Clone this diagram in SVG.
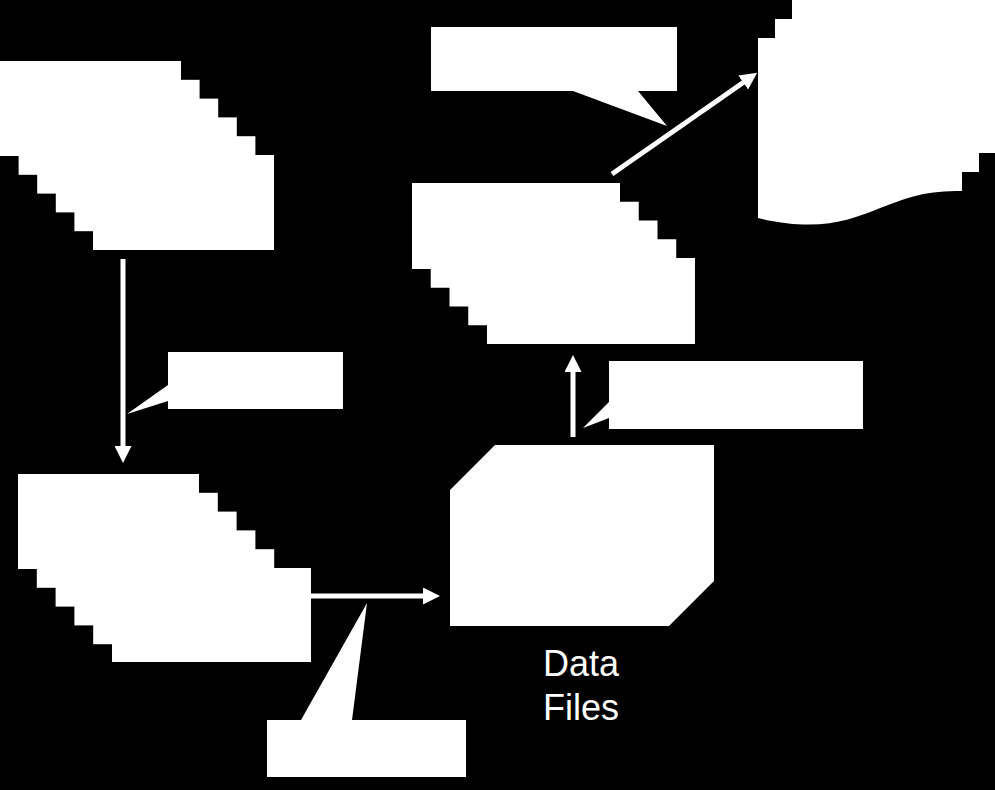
<svg xmlns="http://www.w3.org/2000/svg" width="995" height="790" viewBox="0 0 995 790">
  <defs>
    <style>
      .shape { fill: #ffffff; stroke: none; }
      .conn { stroke: #ffffff; stroke-width: 5; fill: none; }
      .label { font-family: "Liberation Sans", Arial, sans-serif; font-size: 36px; fill: #ffffff; }
    </style>
    <marker id="arrow" viewBox="0 0 17 17" markerUnits="userSpaceOnUse" markerWidth="17" markerHeight="17" refX="1" refY="8.5" orient="auto">
      <path d="M0,0 L17,8.5 L0,17 Z" fill="#ffffff"/>
    </marker>
  </defs>
  <rect x="0" y="0" width="995" height="790" fill="#000000"/>

  <g id="stack-top-left" class="shape">
    <rect x="0" y="61" width="181" height="95"/>
    <rect x="18.6" y="79.8" width="181" height="95"/>
    <rect x="37.2" y="98.6" width="181" height="95"/>
    <rect x="55.8" y="117.4" width="181" height="95"/>
    <rect x="74.4" y="136.2" width="181" height="95"/>
    <rect x="93" y="155" width="181" height="95"/>
  </g>

  <g id="stack-middle" class="shape">
    <rect x="412" y="183" width="208" height="86"/>
    <rect x="430.75" y="201.75" width="208" height="86"/>
    <rect x="449.5" y="220.5" width="208" height="86"/>
    <rect x="468.25" y="239.25" width="208" height="86"/>
    <rect x="487" y="258" width="208" height="86"/>
  </g>

  <g id="stack-bottom-left" class="shape">
    <rect x="18" y="474" width="181" height="95"/>
    <rect x="36.8" y="492.8" width="181" height="95"/>
    <rect x="55.6" y="511.6" width="181" height="95"/>
    <rect x="74.4" y="530.4" width="181" height="95"/>
    <rect x="93.2" y="549.2" width="181" height="95"/>
    <rect x="112" y="568" width="199" height="94"/>
  </g>

  <g id="documents" class="shape">
    <rect x="792" y="0" width="204" height="153"/>
    <rect x="775" y="19" width="204" height="153"/>
    <path d="M758,38 H962 V191 C878,188 863,243 758,218 Z"/>
  </g>

  <g id="data-files">
    <path class="shape" d="M450,490 L495,445 H714 V581 L669,626 H450 Z"/>
    <text class="label" x="543" y="676">Data</text>
    <text class="label" x="543" y="720">Files</text>
  </g>

  <g id="callout-top">
    <path class="shape" d="M431,27 H677 V91 H638 L667,126 L573,91 H431 Z"/>
  </g>
  <g id="callout-left">
    <path class="shape" d="M168,352 H343 V409 H168 V401 L127,414 L168,385 Z"/>
  </g>
  <g id="callout-bottom">
    <path class="shape" d="M267,720 H301 L367,603 L352,720 H466 V777 H267 Z"/>
  </g>
  <g id="callout-right">
    <path class="shape" d="M609,361 H863 V429 H609 V418 L583,428 L609,402 Z"/>
  </g>

  <g id="connectors">
    <line class="conn" x1="123" y1="259" x2="123" y2="447" marker-end="url(#arrow)"/>
    <line class="conn" x1="311" y1="596" x2="424" y2="596" marker-end="url(#arrow)"/>
    <line class="conn" x1="573" y1="437" x2="573" y2="371" marker-end="url(#arrow)"/>
    <line class="conn" x1="612" y1="174" x2="744" y2="82" marker-end="url(#arrow)"/>
  </g>
</svg>
